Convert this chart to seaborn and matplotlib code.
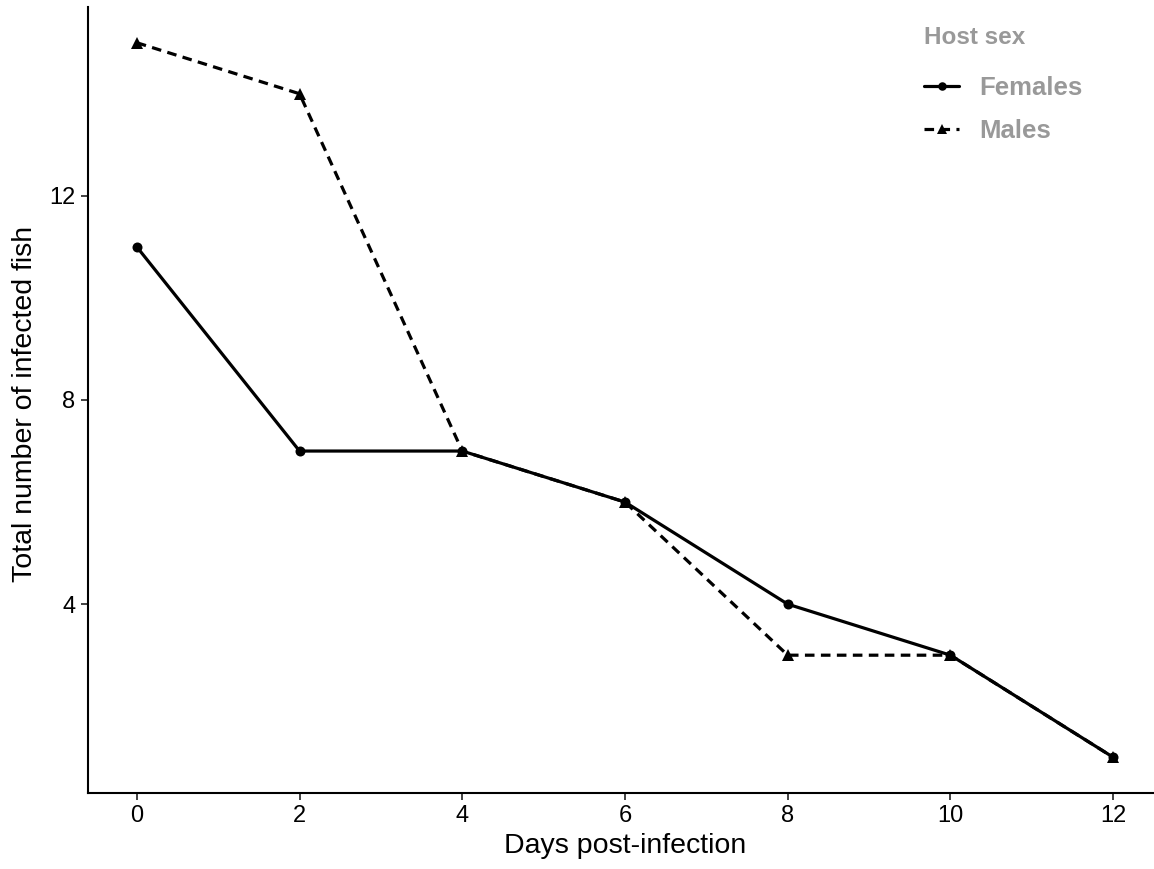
import numpy as np
import pandas as pd
import matplotlib
matplotlib.use('Agg')
import matplotlib.pyplot as plt
import seaborn as sns

# data
days = [0, 2, 4, 6, 8, 10, 12]
females = [11, 7, 7, 6, 4, 3, 1]
males = [15, 14, 7, 6, 3, 3, 1]

df = pd.DataFrame({
    'day': days * 2,
    'n': females + males,
    'sex': ['Females'] * len(days) + ['Males'] * len(days),
})

sns.set_style('white')
plt.rcParams['font.family'] = ['Liberation Sans', 'DejaVu Sans']

fig = plt.figure(figsize=(11.54, 8.69), dpi=100)
ax = fig.add_axes([88 / 1154, 76 / 869, (1162 - 88) / 1154, 786 / 869])

sns.lineplot(data=df, x='day', y='n', style='sex', color='black',
             markers={'Females': 'o', 'Males': '^'},
             dashes={'Females': '', 'Males': (3, 2)},
             linewidth=2.3, markersize=8.5, markeredgewidth=0, ax=ax)

# circles a bit smaller than triangles, like ggplot shapes 16/17
for ln in ax.lines:
    if ln.get_marker() == 'o':
        ln.set_markersize(7.2)
    elif ln.get_marker() == '^':
        ln.set_markersize(8.6)

ax.set_xlim(-0.6, 12.6)
ax.set_ylim(0.3, 15.7)
ax.set_xticks([0, 2, 4, 6, 8, 10, 12])
ax.set_yticks([4, 8, 12])
ax.set_xlabel('Days post-infection', fontsize=20.5, color='black', labelpad=4)
ax.set_ylabel('Total number of infected fish', fontsize=20.5, color='black', labelpad=6)
ax.yaxis.set_label_coords(-0.047, 0.495)
ax.tick_params(axis='both', labelsize=17, length=5, width=1.3, color='#333333',
               labelcolor='black', direction='out', pad=4, bottom=True, left=True)
for s in ['top', 'right']:
    ax.spines[s].set_visible(False)
for s in ['left', 'bottom']:
    ax.spines[s].set_color('black')
    ax.spines[s].set_linewidth(1.5)

leg = ax.legend(title='Host sex', frameon=False, loc='upper left',
                bbox_to_anchor=(901 / 1154, 1 - 3 / 869), bbox_transform=fig.transFigure,
                fontsize=18.5, title_fontsize=17.5, handlelength=1.36, labelspacing=0.75,
                handletextpad=0.78, alignment='left', markerscale=0.85)
leg._legend_box.sep = 19
for t in leg.get_texts():
    t.set_color('#999999')
    t.set_fontweight('bold')
leg.get_title().set_color('#999999')
leg.get_title().set_fontweight('bold')

fig.savefig('out.png', dpi=100)
